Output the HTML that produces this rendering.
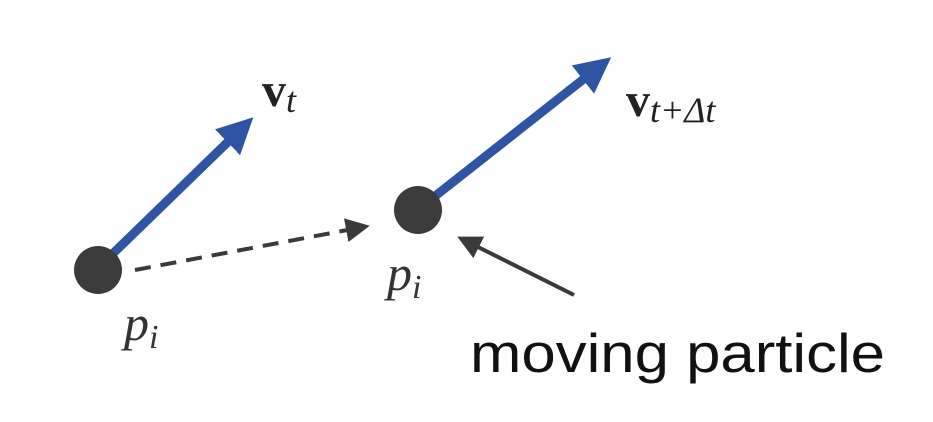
<!DOCTYPE html>
<html><head><meta charset="utf-8"><style>
html,body{margin:0;padding:0;background:#fff;width:933px;height:422px;overflow:hidden}
svg{display:block}
</style></head><body>
<svg width="933" height="422" viewBox="0 0 933 422">
<defs>
<marker id="bh" markerWidth="4" markerHeight="4" refX="1" refY="2" orient="auto" markerUnits="strokeWidth">
<path d="M0,0 L4,2 L0,4 Z" fill="#2e55a3"/></marker>
<marker id="dh" markerWidth="6" markerHeight="6" refX="3" refY="3" orient="auto" markerUnits="strokeWidth">
<path d="M0,0 L6,3 L0,6 Z" fill="#3a3a3a"/></marker>
<marker id="kh" markerWidth="6" markerHeight="6" refX="3" refY="3" orient="auto" markerUnits="strokeWidth">
<path d="M0,0 L6,3 L0,6 Z" fill="#3a3a3a"/></marker>
</defs>
<line x1="98" y1="268" x2="234" y2="136" stroke="#2e55a3" stroke-width="9" marker-end="url(#bh)"/>
<line x1="420" y1="208" x2="590" y2="74" stroke="#2e55a3" stroke-width="9" marker-end="url(#bh)"/>
<line x1="135" y1="270" x2="358" y2="228" stroke="#3a3a3a" stroke-width="4" stroke-dasharray="16,10" marker-end="url(#dh)"/>
<line x1="574" y1="295" x2="468" y2="242" stroke="#3a3a3a" stroke-width="4" marker-end="url(#kh)"/>
<circle cx="98" cy="270" r="24" fill="#3b3b3b"/>
<circle cx="418" cy="210" r="24" fill="#3b3b3b"/>
<text x="262" y="106" font-family="Liberation Serif, serif" font-size="48" fill="#222"><tspan font-weight="bold">v</tspan><tspan font-style="italic" font-size="36" dy="6">t</tspan></text>
<text x="626" y="116" font-family="Liberation Serif, serif" font-size="48" fill="#222"><tspan font-weight="bold">v</tspan><tspan font-style="italic" font-size="36" dy="6">t+Δt</tspan></text>
<text x="124" y="340" font-family="Liberation Serif, serif" font-style="italic" font-size="50" fill="#333">p<tspan font-size="34" dy="8">i</tspan></text>
<text x="387" y="290" font-family="Liberation Serif, serif" font-style="italic" font-size="50" fill="#333">p<tspan font-size="34" dy="8">i</tspan></text>
<text x="470" y="372" font-family="Liberation Sans, sans-serif" font-size="55" fill="#111" textLength="415" lengthAdjust="spacingAndGlyphs">moving particle</text>
</svg>
</body></html>
